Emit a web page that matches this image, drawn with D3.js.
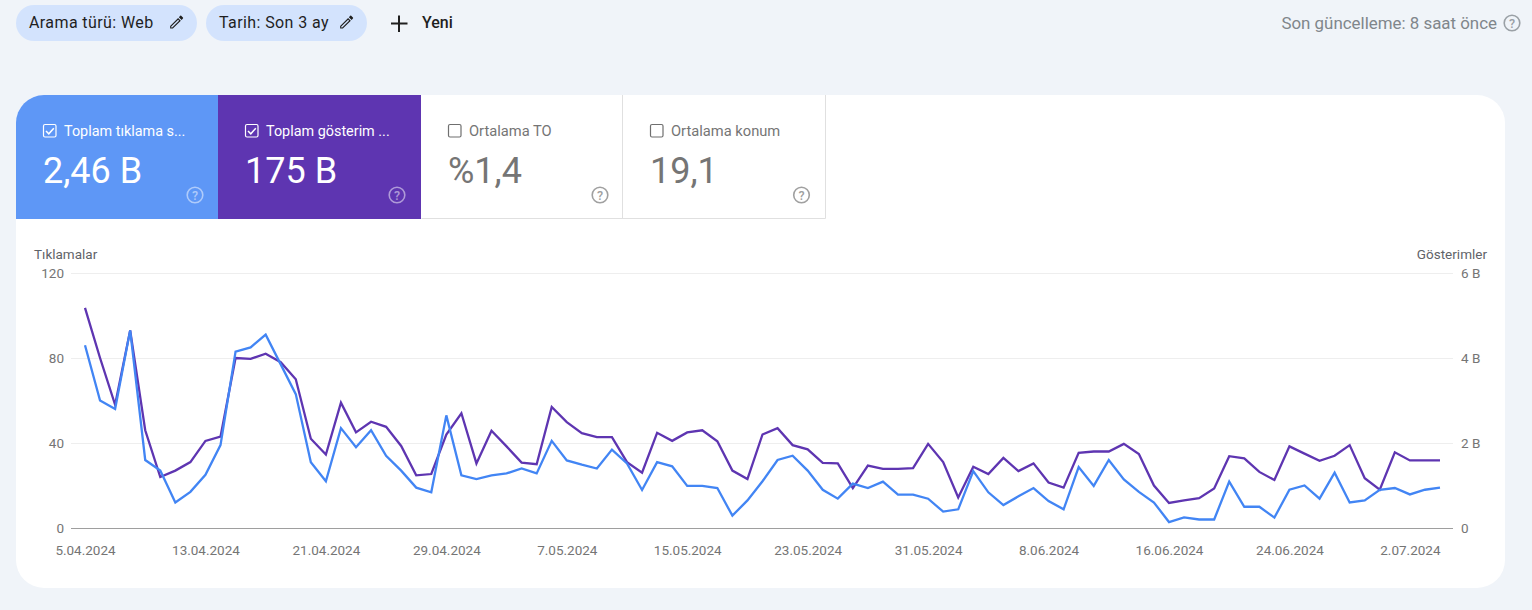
<!DOCTYPE html>
<html>
<head>
<meta charset="utf-8">
<title>Performans</title>
<script src="https://cdn.jsdelivr.net/npm/d3@7"></script>
<style>
	html, body { margin: 0; padding: 0; background: #f0f4f9; overflow: hidden; }
	text { font-family: Roboto, sans-serif; }
	.axis .domain { display: none; }
	.axis text { font-size: 13.5px; fill: #757575; }
</style>
</head>
<body>
<svg id="page" width="1532" height="610"></svg>
<script>

var startDate = "5.04.2024";

var xTickLabels = ["5.04.2024", "13.04.2024", "21.04.2024", "29.04.2024", "7.05.2024", "15.05.2024",
	"23.05.2024", "31.05.2024", "8.06.2024", "16.06.2024", "24.06.2024", "2.07.2024"];

var clickTicks = [0, 40, 80, 120];
var impressionTicks = [0, 2, 4, 6];

// one value per day, clicks
var clicks = [86, 60, 56, 93, 32, 27, 12, 17, 25, 39, 83, 85, 91, 77, 63, 31, 22, 47, 38, 46, 34, 27,
	19, 16.8, 53, 24.8, 23, 24.8, 25.7, 28, 25.7, 41, 31.8, 29.8, 28, 36.9, 30.4, 17.9, 31, 29, 19.8, 19.8, 18.8, 5.8, 13,
	22, 32, 34, 27, 18, 13.8, 20.9, 18.8, 21.8, 15.7, 15.7, 13.8, 7.7, 8.8, 26.8, 16.8, 10.8, 14.9, 18.8, 12.7, 8.8, 28.7, 19.8, 32,
	22.9, 17, 12, 2.8, 5, 4, 4, 21.8, 10, 10, 4.9, 18, 20, 13.8, 26, 12, 13, 18, 18.8, 15.8, 18, 19];

// impressions in B
var impressions = [5.18, 4.0, 2.9, 4.65, 2.3, 1.2, 1.35, 1.55, 2.05, 2.15, 4.0, 3.98, 4.1, 3.9, 3.5, 2.1, 1.73, 2.95, 2.25, 2.5, 2.38, 1.93,
	1.24, 1.27, 2.2, 2.7, 1.52, 2.29, 1.92, 1.54, 1.5, 2.85, 2.49, 2.23, 2.14, 2.14, 1.55, 1.3, 2.24, 2.05, 2.25, 2.3, 2.04, 1.35, 1.15,
	2.2, 2.35, 1.95, 1.85, 1.53, 1.52, 0.94, 1.47, 1.39, 1.39, 1.41, 1.98, 1.55, 0.72, 1.44, 1.27, 1.65, 1.34, 1.52, 1.07, 0.95, 1.77, 1.8, 1.8,
	1.98, 1.74, 1.0, 0.59, 0.65, 0.7, 0.93, 1.69, 1.64, 1.32, 1.13, 1.92, 1.75, 1.58, 1.7, 1.95, 1.17, 0.9, 1.78, 1.59, 1.59, 1.59];

var filterChips = ["Arama türü: Web", "Tarih: Son 3 ay"];
var tileTitles = ["Toplam tıklama s...", "Toplam gösterim ...", "Ortalama TO", "Ortalama konum"];
var tileValues = ["2,46 B", "175 B", "%1,4", "19,1"];

var BLUE_TILE = "#5e97f6";
var PURPLE_TILE = "#5e35b1";
var BLUE_LINE = "#4285f4";
var PURPLE_LINE = "#5e35b1";
var PENCIL = "M3 17.25V21h3.75L17.81 9.94l-3.75-3.75L3 17.25zM5.9 19.5H4.5v-1.4l9.56-9.56 1.4 1.4L5.9 19.5zM20.71 7.04a1 1 0 0 0 0-1.41l-2.34-2.34a1 1 0 0 0-1.41 0l-1.83 1.83 3.75 3.75 1.83-1.83z";

var svg = d3.select("#page");
var parseDay = d3.timeParse("%d.%m.%Y");
var formatDay = d3.timeFormat("%-d.%m.%Y");
var firstDay = parseDay(startDate);


function helpIcon(x, y, color, textColor)
{
	svg.append("circle")
	.attr("cx", x)
	.attr("cy", y)
	.attr("r", 7.8)
	.attr("fill", "none")
	.attr("stroke", color)
	.attr("stroke-width", 1.6);

	svg.append("text")
	.attr("x", x)
	.attr("y", y + 4.5)
	.attr("text-anchor", "middle")
	.attr("font-size", 12.5)
	.attr("font-weight", 500)
	.attr("fill", textColor || color)
	.text("?");
}


function drawHeader()
{
	var chipX = [16, 206];
	var chipW = [181, 161];

	for (var i = 0; i < filterChips.length; i++)
	{
		svg.append("rect")
		.attr("x", chipX[i])
		.attr("y", 5)
		.attr("width", chipW[i])
		.attr("height", 36)
		.attr("rx", 18)
		.attr("fill", "#d3e3fd");

		svg.append("text")
		.attr("x", chipX[i] + 13)
		.attr("y", 28)
		.attr("font-size", 16)
		.attr("letter-spacing", 0.4)
		.attr("fill", "#1f1f1f")
		.text(filterChips[i]);

		svg.append("path")
		.attr("d", PENCIL)
		.attr("transform", "translate(" + (chipX[i] + chipW[i] - 29) + ",13.5) scale(0.72)")
		.attr("fill", "#1f1f1f");
	}

	svg.append("path")
	.attr("d", "M399 15.5V32M391 23.5H407.5")
	.attr("stroke", "#1f1f1f")
	.attr("stroke-width", 2)
	.attr("fill", "none");

	svg.append("text")
	.attr("x", 422)
	.attr("y", 28)
	.attr("font-size", 16)
	.attr("font-weight", 500)
	.attr("fill", "#1f1f1f")
	.text("Yeni");

	svg.append("text")
	.attr("x", 1497)
	.attr("y", 29)
	.attr("text-anchor", "end")
	.attr("font-size", 16.9)
	.attr("fill", "#80868b")
	.text("Son güncelleme: 8 saat önce");

	helpIcon(1512, 23, "#9aa0a6");
}


function drawTiles()
{
	var tileX = [16, 218, 421, 623];
	var tileW = [202, 203, 201, 203];

	// white card, rounded
	svg.append("rect")
	.attr("x", 16)
	.attr("y", 95)
	.attr("width", 1489)
	.attr("height", 493)
	.attr("rx", 28)
	.attr("fill", "#fff");

	svg.append("path")
	.attr("d", "M16 219V123a28 28 0 0 1 28-28H218V219Z")
	.attr("fill", BLUE_TILE);

	svg.append("rect")
	.attr("x", tileX[1])
	.attr("y", 95)
	.attr("width", tileW[1])
	.attr("height", 124)
	.attr("fill", PURPLE_TILE);

	svg.append("path")
	.attr("d", "M421.5 218.5H825.5V95M622.5 95V218.5")
	.attr("fill", "none")
	.attr("stroke", "#e0e0e0");

	for (var i = 0; i < tileTitles.length; i++)
	{
		var active = i < 2;
		var boxX = tileX[i] + 27.5;

		svg.append("rect")
		.attr("x", boxX)
		.attr("y", 124.5)
		.attr("width", 12.5)
		.attr("height", 12.5)
		.attr("rx", 1.5)
		.attr("fill", "none")
		.attr("stroke", active ? "#fff" : "#6f6f6f")
		.attr("stroke-width", 1.2);

		if (active)
		{
			svg.append("path")
			.attr("d", "M" + (boxX + 2.5) + " 131l2.8 2.8 5-5.6")
			.attr("fill", "none")
			.attr("stroke", "#fff")
			.attr("stroke-width", 1.5);
		}

		svg.append("text")
		.attr("x", tileX[i] + 48)
		.attr("y", 136)
		.attr("font-size", active ? 14.4 : 14.7)
		.attr("fill", active ? "#fff" : "#757575")
		.text(tileTitles[i]);

		svg.append("text")
		.attr("x", tileX[i] + 27)
		.attr("y", 183)
		.attr("font-size", 36)
		.attr("fill", active ? "#fff" : "#757575")
		.text(tileValues[i]);

		helpIcon(tileX[i] + 178.5 + (i == 3 ? 0 : 0.5), 195, active ? "rgba(255,255,255,0.5)" : "#a0a0a0");
	}
}


function drawChart()
{
	var plot = {"left": 71, "right": 1453, "top": 273, "bottom": 528};

	var x = d3.scaleTime()
	.domain([firstDay, d3.timeDay.offset(firstDay, clicks.length - 1)])
	.range([85, 1440]);

	var yClicks = d3.scaleLinear().domain([0, 120]).range([plot.bottom, plot.top]);
	var yImpressions = d3.scaleLinear().domain([0, 6]).range([plot.bottom, plot.top]);

	var leftAxis = svg.append("g")
	.attr("class", "axis")
	.attr("transform", "translate(" + plot.left + ",0)")
	.call(d3.axisLeft(yClicks)
		.tickValues(clickTicks)
		.tickSize(-(plot.right - plot.left))
		.tickPadding(7));

	leftAxis.selectAll("line")
	.attr("stroke", function(d) { return d == 0 ? "#9e9e9e" : "#eeeeee"; });

	var rightAxis = svg.append("g")
	.attr("class", "axis")
	.attr("transform", "translate(" + plot.right + ",0)")
	.call(d3.axisRight(yImpressions)
		.tickValues(impressionTicks)
		.tickSize(0)
		.tickPadding(8)
		.tickFormat(function(d) { return d == 0 ? "0" : d + " B"; }));

	var bottomAxis = svg.append("g")
	.attr("class", "axis")
	.attr("transform", "translate(0," + plot.bottom + ")")
	.call(d3.axisBottom(x)
		.tickValues(xTickLabels.map(parseDay))
		.tickSize(0)
		.tickPadding(17)
		.tickFormat(formatDay));

	svg.append("text")
	.attr("x", 34)
	.attr("y", 258.5)
	.attr("font-size", 13.5)
	.attr("fill", "#5f6368")
	.text("Tıklamalar");

	svg.append("text")
	.attr("x", 1487)
	.attr("y", 258.5)
	.attr("text-anchor", "end")
	.attr("font-size", 13.5)
	.attr("fill", "#5f6368")
	.text("Gösterimler");

	var dayX = function(d, i) { return x(d3.timeDay.offset(firstDay, i)); };

	var impressionLine = d3.line().x(dayX).y(function(d) { return yImpressions(d); });
	var clickLine = d3.line().x(dayX).y(function(d) { return yClicks(d); });

	svg.append("path")
	.attr("d", impressionLine(impressions))
	.attr("fill", "none")
	.attr("stroke", PURPLE_LINE)
	.attr("stroke-width", 2.3);

	svg.append("path")
	.attr("d", clickLine(clicks))
	.attr("fill", "none")
	.attr("stroke", BLUE_LINE)
	.attr("stroke-width", 2.3);
}


drawHeader();
drawTiles();
drawChart();

</script>
</body>
</html>
